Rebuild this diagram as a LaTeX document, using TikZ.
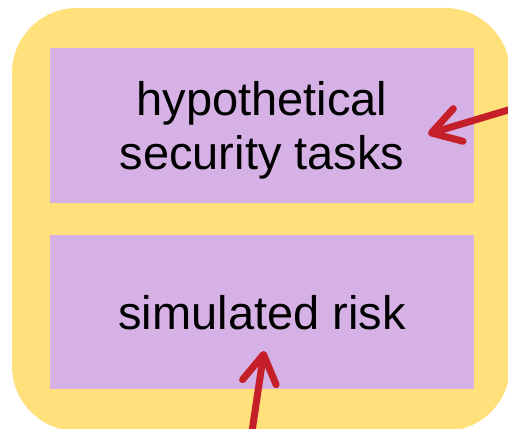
\documentclass[tikz,border=0pt]{standalone}
\usepackage{fontspec}
\setmainfont{Liberation Sans}
\usetikzlibrary{arrows.meta}

\definecolor{backyellow}{HTML}{FFE07A}
\definecolor{boxpurple}{HTML}{D6B1E5}
\definecolor{arrowred}{HTML}{C5202A}

\begin{document}
\begin{tikzpicture}[x=1pt,y=-1pt,
	box/.style={rectangle,fill=boxpurple,minimum width=424pt,minimum height=154pt,
		align=center,text depth=0pt,font=\fontsize{47}{54}\selectfont},
	pointer/.style={draw=arrowred,line width=7pt,line cap=round,
		-{Straight Barb[length=28pt,width=34pt,line cap=round,line join=round]}}]

	\useasboundingbox (0,0) rectangle (508,428);
	\clip (0,0) rectangle (508,428);

	\def\boxx{262}

	\node[fill=backyellow,rounded corners=65pt,minimum width=498pt,minimum height=423pt] (back) at (261,219.5) {};

	\node[box] (tasks) at (\boxx,125.5) {hypothetical\\security tasks};
	\node[box] (risk) at (\boxx,312) {simulated risk};

	\coordinate (tasksin) at (428,134);
	\coordinate (tasksfrom) at (525,105);
	\coordinate (riskin) at (264,351);
	\coordinate (riskfrom) at (250,445);

	\draw[pointer] (tasksfrom) -- (tasksin);
	\draw[pointer] (riskfrom) -- (riskin);

\end{tikzpicture}
\end{document}
